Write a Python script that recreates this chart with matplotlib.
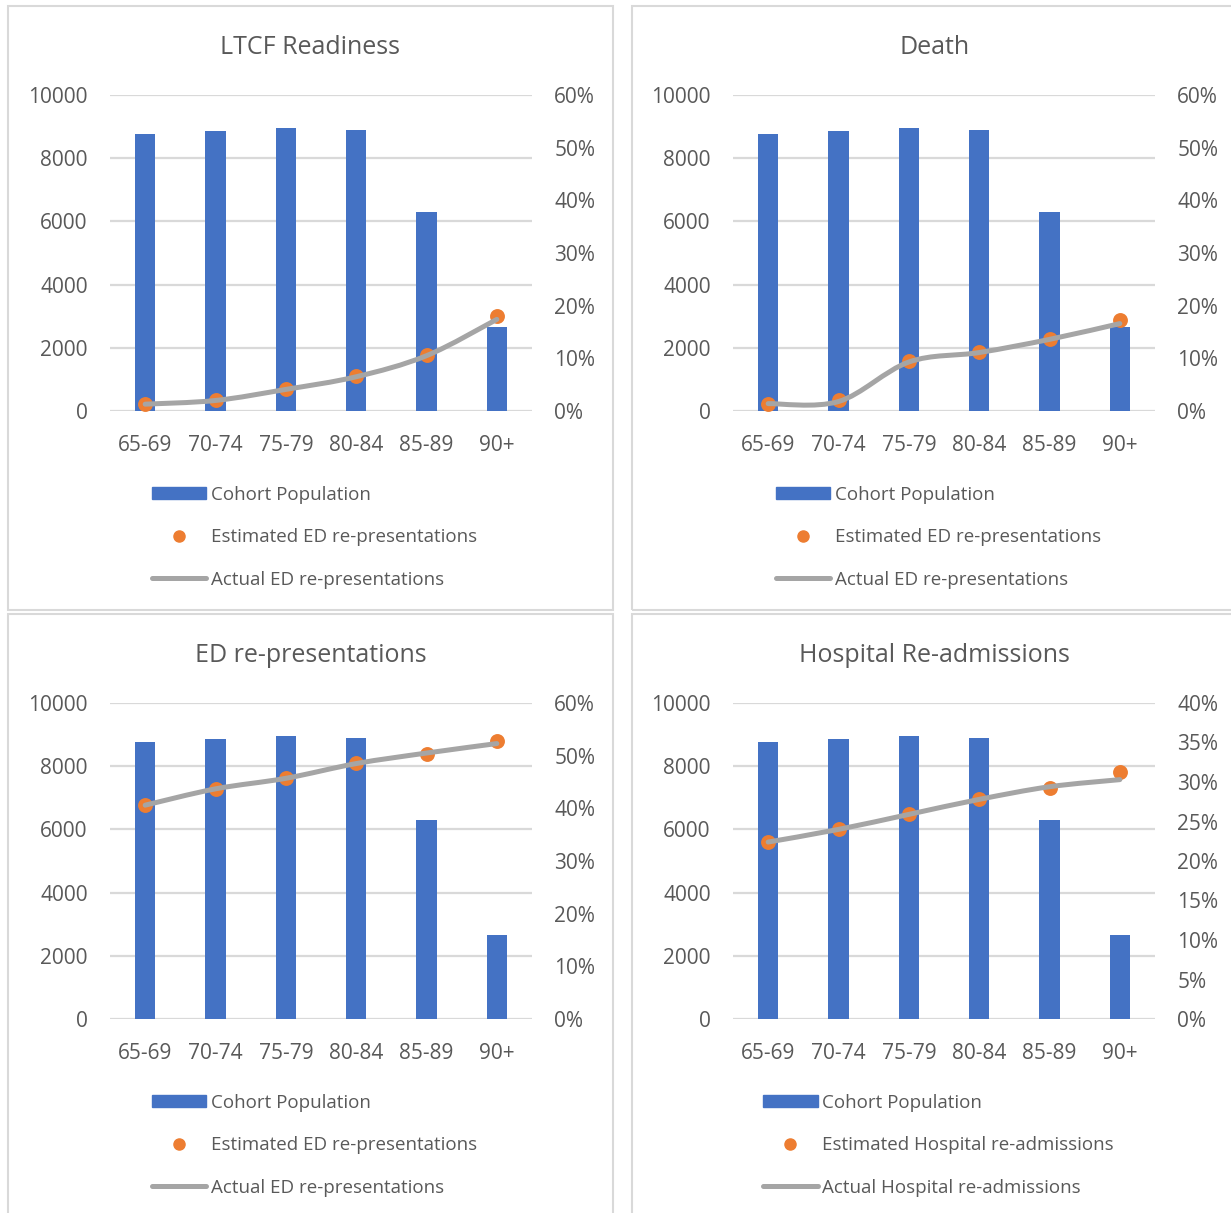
import numpy as np
import matplotlib.pyplot as plt
from matplotlib.path import Path
from matplotlib.patches import PathPatch, Rectangle, Patch
from matplotlib.lines import Line2D
from matplotlib.ticker import PercentFormatter

plt.rcParams['font.family'] = ['Open Sans', 'DejaVu Sans']

# data
ages = ['65-69', '70-74', '75-79', '80-84', '85-89', '90+']
cohort = [8770, 8850, 8950, 8890, 6290, 2670]

ltcf_est = [0.013, 0.021, 0.042, 0.066, 0.107, 0.180]
ltcf_act = [0.013, 0.020, 0.041, 0.065, 0.105, 0.174]

death_est = [0.014, 0.021, 0.095, 0.112, 0.136, 0.172]
death_act = [0.014, 0.018, 0.093, 0.111, 0.136, 0.166]

ed_est = [0.406, 0.437, 0.457, 0.486, 0.504, 0.528]
ed_act = [0.406, 0.437, 0.457, 0.485, 0.505, 0.523]

hosp_est = [0.224, 0.240, 0.2595, 0.2785, 0.293, 0.313]
hosp_act = [0.224, 0.240, 0.259, 0.278, 0.294, 0.303]

BLUE = '#4472C4'
ORANGE = '#ED7D31'
GREY = '#A5A5A5'
GRID = '#D9D9D9'
TXT = '#595959'

W, H = 1231, 1213
fig = plt.figure(figsize=(W / 100, H / 100), dpi=100)


def px_axes(l, t, r, b):
    return fig.add_axes([l / W, 1 - b / H, (r - l) / W, (b - t) / H])


def smooth_path(xs, ys):
    # Excel-style smoothed line (Catmull-Rom as cubic Bezier)
    pts = np.column_stack([xs, ys]).astype(float)
    ext = np.vstack([pts[0], pts, pts[-1]])
    verts = [pts[0]]
    codes = [Path.MOVETO]
    for i in range(len(pts) - 1):
        p0, p1, p2, p3 = ext[i], ext[i + 1], ext[i + 2], ext[i + 3]
        verts += [p1 + (p2 - p0) / 6, p2 - (p3 - p1) / 6, p2]
        codes += [Path.CURVE4] * 3
    return Path(verts, codes)


def panel(box, frame, title, est, act, rmax, rstep, est_label, act_label):
    # frame of the chart area
    fl, ft, fr, fb = frame
    fig.add_artist(Rectangle((fl / W, 1 - fb / H), (fr - fl) / W, (fb - ft) / H,
                             transform=fig.transFigure, fill=False,
                             edgecolor=GRID, lw=1.5))
    cx = (fl + fr) / 2 if fr < W else (fl + 1237) / 2
    fig.text(cx / W, 1 - (box[1] - 48) / H, title, ha='center', va='center',
             fontsize=18, color=TXT)

    ax = px_axes(*box)
    x = np.arange(len(ages))
    ax.bar(x, cohort, width=0.29, color=BLUE, zorder=2)
    ax.set_xlim(-0.5, len(ages) - 0.5)
    ax.set_ylim(0, 10000)
    ax.set_yticks(range(0, 10001, 2000))
    ax.set_xticks(x)
    ax.set_xticklabels(ages)
    ax.yaxis.grid(True, color=GRID, lw=1.6, zorder=0)
    ax.set_axisbelow(True)
    for s in ax.spines.values():
        s.set_visible(False)
    ax.tick_params(axis='y', length=0, pad=16, labelsize=15, labelcolor=TXT)
    ax.tick_params(axis='x', length=0, pad=17, labelsize=15, labelcolor=TXT)

    ax2 = ax.twinx()
    ax2.set_ylim(0, rmax)
    ax2.set_yticks(np.arange(0, rmax + 1e-9, rstep))
    ax2.yaxis.set_major_formatter(PercentFormatter(1.0, decimals=0))
    for s in ax2.spines.values():
        s.set_visible(False)
    ax2.tick_params(axis='y', length=0, pad=16, labelsize=15, labelcolor=TXT)
    ax2.scatter(x, est, s=115, color=ORANGE, zorder=3, linewidths=0)
    ax2.add_patch(PathPatch(smooth_path(x, act), fill=False, edgecolor=GREY,
                            lw=3.6, capstyle='round', zorder=4))

    handles = [Patch(color=BLUE),
               Line2D([], [], ls='none', marker='o', ms=8, color=ORANGE),
               Line2D([], [], color=GREY, lw=3.6, solid_capstyle='round')]
    labels = ['Cohort Population', est_label, act_label]
    fig.legend(handles, labels, loc='upper center',
               bbox_to_anchor=((cx + 4) / W, 1 - (box[3] + 75) / H),
               frameon=False, fontsize=13.5, labelcolor=TXT,
               handlelength=2.9, handleheight=0.6, handletextpad=0.25,
               labelspacing=1.3, borderpad=0, borderaxespad=0)


panel((110, 95, 532, 411), (8, 6, 613, 610), 'LTCF Readiness',
      ltcf_est, ltcf_act, 0.6, 0.1,
      'Estimated ED re-presentations', 'Actual ED re-presentations')
panel((733, 95, 1155, 411), (632, 6, 1240, 610), 'Death',
      death_est, death_act, 0.6, 0.1,
      'Estimated ED re-presentations', 'Actual ED re-presentations')
panel((110, 703, 532, 1019), (8, 614, 613, 1225), 'ED re-presentations',
      ed_est, ed_act, 0.6, 0.1,
      'Estimated ED re-presentations', 'Actual ED re-presentations')
panel((733, 703, 1155, 1019), (632, 614, 1240, 1225), 'Hospital Re-admissions',
      hosp_est, hosp_act, 0.4, 0.05,
      'Estimated Hospital re-admissions', 'Actual Hospital re-admissions')

fig.savefig('out.png', dpi=100, facecolor='white')
